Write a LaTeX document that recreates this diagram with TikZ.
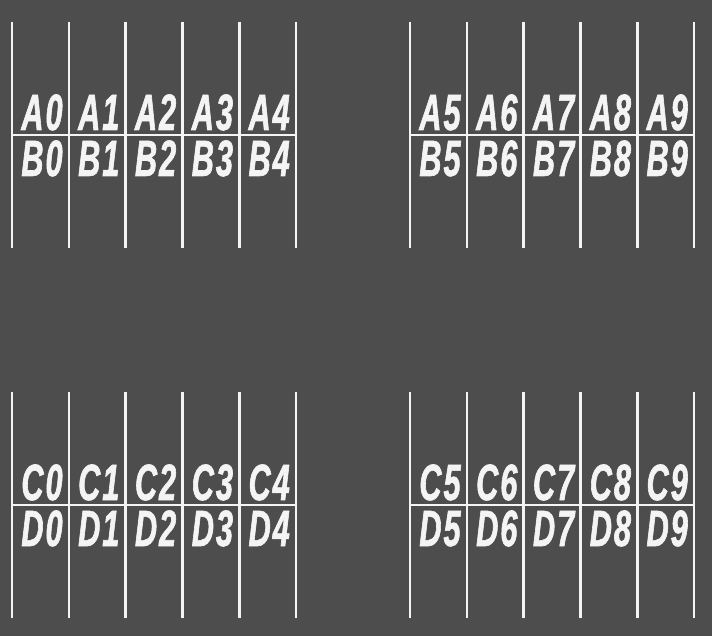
\documentclass[tikz,border=0pt]{standalone}
\usepackage{fontspec}
\newfontfamily\cellfont[FakeStretch=0.6, FakeBold=1.2, LetterSpace=4, UprightFont={* Bold Italic}]{Liberation Sans}
\usepackage{tikz}
\usetikzlibrary{positioning}
\definecolor{bggray}{HTML}{4D4D4D}
\definecolor{railwhite}{HTML}{F4F4F4}

\begin{document}
\begin{tikzpicture}[
      x=1pt, y=-1pt,
      rail/.style={draw=railwhite, line width=2.6pt},
      cell/.style={text=railwhite, anchor=base, inner sep=0pt,
                   font=\cellfont\fontsize{51}{51}\selectfont}
  ]
      % Background
      \fill[bggray] (0,0) rectangle (712,636);
      
      % Four blocks: left x / top y / upper row / lower row / first index
      \foreach \bx/\by/\up/\lo/\first in {12/22/A/B/0, 410/22/A/B/5, 12/392/C/D/0, 410/392/C/D/5}{
          % Vertical rails
          \foreach \i in {0,...,5}
              \draw[rail] (\bx+\i*56.8,\by) -- (\bx+\i*56.8,\by+226);
          % Middle line
          \draw[rail] (\bx,\by+113) -- (\bx+284,\by+113);
          % Labels
          \foreach \i in {0,...,4}{
              \pgfmathtruncatemacro{\k}{\first+\i}
              \node[cell] (\up\k) at (\bx+\i*56.8+30,\by+108) {\up\k};
              \node[cell] (\lo\k) at (\bx+\i*56.8+30,\by+154) {\lo\k};
          }
      }
  \end{tikzpicture}
\end{document}
